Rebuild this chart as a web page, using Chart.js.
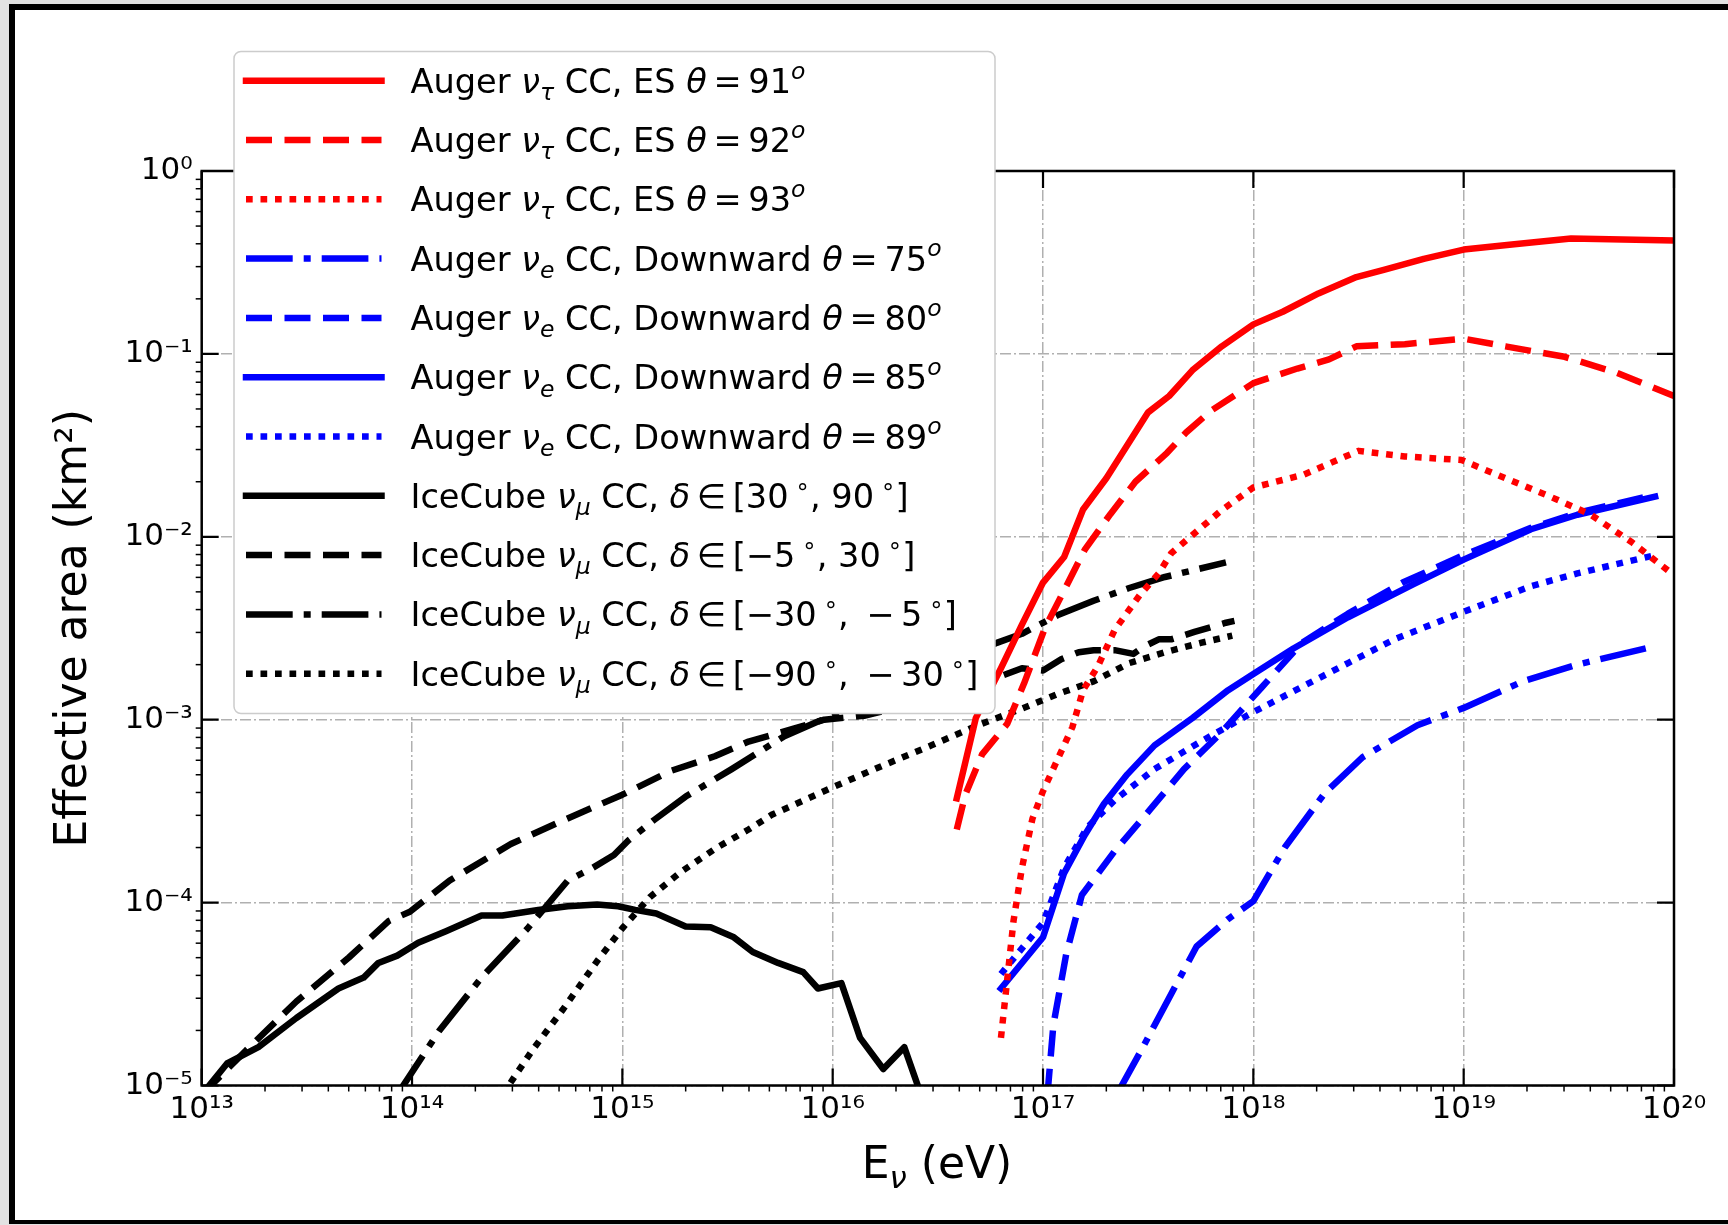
<!DOCTYPE html>
<html>
<head>
<meta charset="utf-8">
<script src="https://cdn.jsdelivr.net/npm/chart.js@4.4.1/dist/chart.umd.min.js"></script>
<style>
html, body { margin: 0; padding: 0; width: 1728px; height: 1225px; overflow: hidden; background: #e2e2e2; }
#frame { position: absolute; left: 9px; top: 4px; width: 1713px; height: 1210px; background: #fff;
  border-top: 6px solid #000; border-left: 6px solid #000; border-bottom: 4px solid #000; }
#plot { position: absolute; left: 0; top: 0; }
</style>
</head>
<body>
<div id="frame"></div>
<canvas id="plot" width="1728" height="1225"></canvas>
<script>
// ********
// * Data *
// ********
// each series: [energy (eV), effective area (km^2)]
const tau91 = [[3.89e16, 3.72e-4], [4.79e16, 1.02e-3], [6.31e16, 1.91e-3], [7.94e16, 3.31e-3], [1.0e17, 5.62e-3],
  [1.26e17, 7.76e-3], [1.55e17, 1.41e-2], [2.0e17, 2.09e-2], [2.51e17, 3.16e-2], [3.16e17, 4.79e-2],
  [3.98e17, 5.89e-2], [5.13e17, 8.13e-2], [7.08e17, 0.110], [1.0e18, 0.145], [1.38e18, 0.170],
  [2.04e18, 0.214], [3.09e18, 0.263], [4.17e18, 0.288], [6.46e18, 0.331], [1.0e19, 0.372],
  [1.74e19, 0.398], [3.24e19, 0.427], [1.0e20, 0.417]];
const tau92 = [[3.89e16, 2.51e-4], [4.27e16, 3.89e-4], [5.13e16, 6.46e-4], [6.76e16, 9.5e-4], [8.13e16, 1.58e-3],
  [1.02e17, 3.16e-3], [1.29e17, 5.37e-3], [1.58e17, 8.51e-3], [2.09e17, 1.33e-2], [2.75e17, 2.0e-2],
  [3.89e17, 2.88e-2], [4.79e17, 3.72e-2], [6.31e17, 4.9e-2], [1.0e18, 6.92e-2], [1.62e18, 8.32e-2],
  [2.29e18, 9.33e-2], [3.09e18, 0.110], [5.25e18, 0.113], [1.0e19, 0.121], [1.58e19, 0.110],
  [3.02e19, 9.64e-2], [5.25e19, 7.94e-2], [1.0e20, 5.89e-2]];
const tau93 = [[6.31e16, 1.82e-5], [6.76e16, 3.8e-5], [7.24e16, 7.94e-5], [7.94e16, 1.55e-4], [8.91e16, 2.88e-4],
  [1.0e17, 4.07e-4], [1.17e17, 6.03e-4], [1.38e17, 9.12e-4], [1.55e17, 1.45e-3], [1.82e17, 1.95e-3],
  [2.19e17, 3.09e-3], [2.88e17, 4.79e-3], [3.55e17, 6.31e-3], [4.07e17, 8.13e-3], [5.37e17, 1.07e-2],
  [7.08e17, 1.4e-2], [1.0e18, 1.86e-2], [1.74e18, 2.19e-2], [3.16e18, 2.95e-2], [5.25e18, 2.75e-2],
  [9.77e18, 2.63e-2], [1.58e19, 2.09e-2], [2.57e19, 1.66e-2], [3.98e19, 1.33e-2], [6.31e19, 9.33e-3],
  [1.0e20, 6.17e-3]];
const down75 = [[2.24e17, 8.9e-6], [2.95e17, 1.58e-5], [3.98e17, 3.02e-5], [5.37e17, 5.75e-5], [7.59e17, 8.13e-5],
  [1.0e18, 1.02e-4], [1.41e18, 2.0e-4], [2.19e18, 3.98e-4], [3.31e18, 6.24e-4], [6.03e18, 9.33e-4],
  [1.0e19, 1.16e-3], [1.91e19, 1.62e-3], [3.47e19, 2.0e-3], [7.94e19, 2.51e-3]];
const down80 = [[1.05e17, 8.9e-6], [1.12e17, 2.14e-5], [1.29e17, 5.25e-5], [1.53e17, 1.1e-4], [2.19e17, 1.91e-4],
  [3.24e17, 3.24e-4], [4.68e17, 5.37e-4], [6.92e17, 8.32e-4], [1.1e18, 1.51e-3], [1.7e18, 2.63e-3],
  [2.82e18, 3.8e-3], [5.13e18, 5.62e-3], [1.0e19, 7.94e-3], [2.09e19, 1.12e-2], [3.47e19, 1.35e-2],
  [8.13e19, 1.7e-2]];
const down85 = [[6.31e16, 3.39e-5], [1.0e17, 6.46e-5], [1.26e17, 1.45e-4], [1.58e17, 2.34e-4], [1.95e17, 3.47e-4],
  [2.51e17, 5.01e-4], [3.39e17, 7.24e-4], [5.13e17, 1.02e-3], [7.59e17, 1.45e-3], [1.0e18, 1.78e-3],
  [1.55e18, 2.45e-3], [2.82e18, 3.63e-3], [5.75e18, 5.5e-3], [1.0e19, 7.5e-3], [2.09e19, 1.1e-2],
  [3.47e19, 1.32e-2], [8.13e19, 1.66e-2]];
const down89 = [[6.31e16, 4.07e-5], [7.94e16, 5.62e-5], [1.0e17, 7.76e-5], [1.26e17, 1.55e-4], [1.62e17, 2.57e-4],
  [2.19e17, 3.63e-4], [3.39e17, 5.37e-4], [5.62e17, 7.59e-4], [1.0e18, 1.1e-3], [1.7e18, 1.51e-3],
  [2.82e18, 2.04e-3], [4.68e18, 2.75e-3], [1.0e19, 3.89e-3], [2.09e19, 5.37e-3], [3.47e19, 6.31e-3],
  [8.13e19, 7.94e-3]];
const ic30to90 = [[1.0e13, 8.9e-6], [1.32e13, 1.32e-5], [1.86e13, 1.62e-5], [2.82e13, 2.34e-5], [4.47e13, 3.39e-5],
  [5.89e13, 3.89e-5], [6.92e13, 4.68e-5], [8.51e13, 5.13e-5], [1.07e14, 6.03e-5], [1.45e14, 6.98e-5],
  [2.14e14, 8.51e-5], [2.69e14, 8.51e-5], [3.98e14, 9.12e-5], [5.5e14, 9.55e-5], [7.59e14, 9.77e-5],
  [9.55e14, 9.55e-5], [1.15e15, 9.12e-5], [1.45e15, 8.71e-5], [2.0e15, 7.41e-5], [2.63e15, 7.33e-5],
  [3.39e15, 6.46e-5], [4.17e15, 5.37e-5], [5.5e15, 4.68e-5], [7.24e15, 4.17e-5], [8.51e15, 3.39e-5],
  [1.1e16, 3.63e-5], [1.35e16, 1.82e-5], [1.74e16, 1.23e-5], [2.19e16, 1.62e-5], [2.63e16, 8.9e-6]];
const icM5to30 = [[1.0e13, 8.9e-6], [1.62e13, 1.55e-5], [2.82e13, 2.88e-5], [5.01e13, 5.01e-5], [7.76e13, 7.94e-5],
  [9.77e13, 8.91e-5], [1.51e14, 1.32e-4], [2.95e14, 2.09e-4], [5.25e14, 2.82e-4], [1.0e15, 3.89e-4],
  [1.7e15, 5.25e-4], [2.75e15, 6.31e-4], [3.98e15, 7.59e-4], [6.46e15, 8.91e-4], [9.12e15, 1.0e-3],
  [1.41e16, 1.05e-3], [3.16e16, 1.32e-3], [6.03e16, 1.7e-3], [7.94e16, 1.91e-3], [1.0e17, 1.86e-3],
  [1.22e17, 2.14e-3], [1.48e17, 2.34e-3], [1.74e17, 2.4e-3], [2.19e17, 2.4e-3], [2.69e17, 2.29e-3],
  [3.02e17, 2.51e-3], [3.55e17, 2.75e-3], [4.07e17, 2.75e-3], [5.25e17, 3.02e-3], [7.41e17, 3.39e-3],
  [8.13e17, 3.47e-3]];
const icM30toM5 = [[8.5e13, 8.9e-6], [1.35e14, 2.0e-5], [2.14e14, 3.89e-5], [3.55e14, 7.24e-5], [5.5e14, 1.32e-4],
  [7.24e14, 1.55e-4], [9.12e14, 1.82e-4], [1.07e15, 2.19e-4], [1.41e15, 2.82e-4], [2.0e15, 3.8e-4],
  [3.31e15, 5.37e-4], [5.89e15, 8.13e-4], [8.51e15, 9.77e-4], [1.05e16, 1.07e-3], [2.51e16, 1.66e-3],
  [6.03e16, 2.63e-3], [7.94e16, 2.95e-3], [1.17e17, 3.72e-3], [1.74e17, 4.47e-3], [2.57e17, 5.25e-3],
  [3.8e17, 6.03e-3], [7.41e17, 7.24e-3]];
const icM90toM30 = [[2.69e14, 8.9e-6], [3.72e14, 1.55e-5], [5.25e14, 2.63e-5], [7.59e14, 4.79e-5], [1.0e15, 7.24e-5],
  [1.35e15, 1.07e-4], [1.91e15, 1.48e-4], [2.82e15, 2.0e-4], [3.98e15, 2.51e-4], [5.13e15, 3.02e-4],
  [1.0e16, 4.27e-4], [1.66e16, 5.5e-4], [2.95e16, 7.24e-4], [4.9e16, 9.33e-4], [7.94e16, 1.15e-3],
  [1.17e17, 1.38e-3], [1.74e17, 1.62e-3], [2.57e17, 2.04e-3], [3.8e17, 2.34e-3], [5.62e17, 2.63e-3],
  [7.94e17, 2.88e-3]];

const legendLabels = [
  'Auger ν_{τ} CC, ES θ\u2009=\u200991^{o}',
  'Auger ν_{τ} CC, ES θ\u2009=\u200992^{o}',
  'Auger ν_{τ} CC, ES θ\u2009=\u200993^{o}',
  'Auger ν_{e} CC, Downward θ\u2009=\u200975^{o}',
  'Auger ν_{e} CC, Downward θ\u2009=\u200980^{o}',
  'Auger ν_{e} CC, Downward θ\u2009=\u200985^{o}',
  'Auger ν_{e} CC, Downward θ\u2009=\u200989^{o}',
  'IceCube ν_{μ} CC, δ\u2009∈\u2009[30\u2009^{∘}, 90\u2009^{∘}]',
  'IceCube ν_{μ} CC, δ\u2009∈\u2009[−5\u2009^{∘}, 30\u2009^{∘}]',
  'IceCube ν_{μ} CC, δ\u2009∈\u2009[−30\u2009^{∘}, \u2009−\u20095\u2009^{∘}]',
  'IceCube ν_{μ} CC, δ\u2009∈\u2009[−90\u2009^{∘}, \u2009−\u200930\u2009^{∘}]'
];

const xTickValues = [1e13, 1e14, 1e15, 1e16, 1e17, 1e18, 1e19, 1e20];
const xTickLabels = ['10¹³', '10¹⁴', '10¹⁵', '10¹⁶', '10¹⁷', '10¹⁸', '10¹⁹', '10²⁰'];
const yTickValues = [1e-5, 1e-4, 1e-3, 1e-2, 1e-1, 1];
const yTickLabels = ['10⁻⁵', '10⁻⁴', '10⁻³', '10⁻²', '10⁻¹', '10⁰'];

// **********
// * Styles *
// **********
const FONT = 'DejaVu Sans';
const LW = 6.5;
const SOLID = [];
const DASH = [26, 12.5];
const DOT = [6.7, 7.8];
const DASHDOT = [46.7, 11, 7, 11];

const series = [
  {pts: tau91, color: '#ff0000', dash: SOLID},
  {pts: tau92, color: '#ff0000', dash: DASH},
  {pts: tau93, color: '#ff0000', dash: DOT},
  {pts: down75, color: '#0000ff', dash: DASHDOT},
  {pts: down80, color: '#0000ff', dash: DASH},
  {pts: down85, color: '#0000ff', dash: SOLID},
  {pts: down89, color: '#0000ff', dash: DOT},
  {pts: ic30to90, color: '#000000', dash: SOLID},
  {pts: icM5to30, color: '#000000', dash: DASH},
  {pts: icM30toM5, color: '#000000', dash: DASHDOT},
  {pts: icM90toM30, color: '#000000', dash: DOT}
];

const datasets = series.map((s, i) => ({
  label: legendLabels[i],
  data: s.pts.map(p => ({x: p[0], y: p[1]})),
  showLine: true,
  borderColor: s.color,
  borderWidth: LW,
  borderDash: s.dash,
  borderCapStyle: s.dash.length ? 'butt' : 'square',
  borderJoinStyle: 'round',
  pointRadius: 0,
  pointHoverRadius: 0,
  tension: 0,
  fill: false,
  clip: 0
}));

// ***********
// * Helpers *
// ***********
function logTicks(majors) {
  const out = [];
  majors.forEach((v, i) => {
    out.push({value: v, major: true});
    if (i < majors.length - 1) {
      for (let k = 2; k <= 9; k++) out.push({value: k * v, major: false});
    }
  });
  return out;
}

function labelFor(values, labels, value) {
  const i = values.findIndex(v => Math.abs(Math.log10(v / value)) < 1e-6);
  return i >= 0 ? labels[i] : '';
}

// tiny markup: _{..} subscript, ^{..} superscript, greek letters in italic
function parseRuns(s) {
  const runs = [];
  let i = 0;
  while (i < s.length) {
    const c = s[i];
    if ((c === '_' || c === '^') && s[i + 1] === '{') {
      const j = s.indexOf('}', i);
      for (const ch of s.slice(i + 2, j)) runs.push({t: ch, k: c === '_' ? 'sub' : 'sup'});
      i = j + 1;
    } else {
      runs.push({t: c, k: 'base'});
      i++;
    }
  }
  return runs;
}

function runFont(r, size) {
  const italic = /[α-ω]/.test(r.t) || (r.k !== 'base' && /[a-z]/.test(r.t));
  const px = r.k === 'base' ? size : size * 0.7;
  return (italic ? 'italic ' : '') + px + 'px "' + FONT + '"';
}

function measureRuns(ctx, text, size) {
  let w = 0;
  parseRuns(text).forEach(r => {
    ctx.font = runFont(r, size);
    w += ctx.measureText(r.t).width;
  });
  return w;
}

function drawRuns(ctx, text, x, baseY, size) {
  let cx = x;
  ctx.textAlign = 'left';
  ctx.textBaseline = 'alphabetic';
  parseRuns(text).forEach(r => {
    ctx.font = runFont(r, size);
    let dy = 0;
    if (r.k === 'sub') dy = 0.22 * size;
    if (r.k === 'sup') dy = -0.42 * size;
    ctx.fillText(r.t, cx, baseY + dy);
    cx += ctx.measureText(r.t).width;
  });
}

// ***********************************
// * Ticks, spines, x title, legend *
// ***********************************
const decorPlugin = {
  id: 'decor',
  afterDraw(chart) {
    const {ctx, chartArea: a, scales: {x, y}} = chart;
    ctx.save();
    ctx.strokeStyle = '#000';
    ctx.setLineDash([]);
    x.ticks.forEach(t => {
      const px = x.getPixelForValue(t.value);
      ctx.beginPath();
      if (t.major) {
        ctx.lineWidth = 2.2;
        ctx.moveTo(px, a.bottom); ctx.lineTo(px, a.bottom - 17);
        ctx.moveTo(px, a.top); ctx.lineTo(px, a.top + 17);
      } else {
        ctx.lineWidth = 1.5;
        ctx.moveTo(px, a.bottom); ctx.lineTo(px, a.bottom + 6);
      }
      ctx.stroke();
    });
    y.ticks.forEach(t => {
      const py = y.getPixelForValue(t.value);
      ctx.beginPath();
      if (t.major) {
        ctx.lineWidth = 2.2;
        ctx.moveTo(a.left, py); ctx.lineTo(a.left + 17, py);
        ctx.moveTo(a.right, py); ctx.lineTo(a.right - 17, py);
      } else {
        ctx.lineWidth = 1.5;
        ctx.moveTo(a.left, py); ctx.lineTo(a.left - 6, py);
      }
      ctx.stroke();
    });
    ctx.lineWidth = 2.5;
    ctx.strokeRect(a.left, a.top, a.right - a.left, a.bottom - a.top);

    // x axis title
    ctx.fillStyle = '#000';
    const xTitle = 'E_{ν} (eV)';
    const tw = measureRuns(ctx, xTitle, 44);
    drawRuns(ctx, xTitle, 937 - tw / 2, 1178, 44);

    // legend
    const box = {x: 234, y: 51.5, w: 761, h: 662};
    ctx.beginPath();
    ctx.roundRect(box.x, box.y, box.w, box.h, 7);
    ctx.fillStyle = '#ffffff';
    ctx.fill();
    ctx.lineWidth = 1.5;
    ctx.strokeStyle = '#cccccc';
    ctx.stroke();
    series.forEach((s, i) => {
      const ly = 80.7 + i * 59.3;
      ctx.beginPath();
      ctx.strokeStyle = s.color;
      ctx.lineWidth = LW;
      ctx.setLineDash(s.dash);
      ctx.lineCap = s.dash.length ? 'butt' : 'square';
      ctx.moveTo(246, ly);
      ctx.lineTo(381.5, ly);
      ctx.stroke();
      ctx.setLineDash([]);
      ctx.fillStyle = '#000';
      drawRuns(ctx, legendLabels[i], 410.5, ly + 12, 33.6);
    });
    ctx.restore();
  }
};

// *********
// * Chart *
// *********
const plotCtx = document.getElementById('plot').getContext('2d');
const effAreaChart = new Chart(plotCtx, {
  type: 'scatter',
  data: {datasets},
  options: {
    responsive: false,
    animation: false,
    events: [],
    layout: {padding: {left: 0, top: 171, right: 54, bottom: 0}},
    plugins: {legend: {display: false}, tooltip: {enabled: false}},
    scales: {
      x: {
        type: 'logarithmic',
        position: 'bottom',
        min: 1e13,
        max: 1e20,
        afterBuildTicks: scale => { scale.ticks = logTicks(xTickValues); },
        afterFit: scale => { scale.height = 139.5; },
        grid: {
          color: c => (c.tick && c.tick.major) ? '#b0b0b0' : 'rgba(0,0,0,0)',
          lineWidth: 1.5,
          drawTicks: false
        },
        border: {display: false, dash: [11, 3, 2, 3]},
        ticks: {
          autoSkip: false,
          maxRotation: 0,
          minRotation: 0,
          padding: 6,
          color: '#000',
          font: {family: FONT, size: 31},
          callback: value => labelFor(xTickValues, xTickLabels, value)
        }
      },
      y: {
        type: 'logarithmic',
        position: 'left',
        min: 1e-5,
        max: 1,
        afterBuildTicks: scale => { scale.ticks = logTicks(yTickValues); },
        afterFit: scale => { scale.width = 201.7; },
        grid: {
          color: c => (c.tick && c.tick.major) ? '#b0b0b0' : 'rgba(0,0,0,0)',
          lineWidth: 1.5,
          drawTicks: false
        },
        border: {display: false, dash: [11, 3, 2, 3]},
        title: {
          display: true,
          text: 'Effective area (km²)',
          color: '#000',
          font: {family: FONT, size: 44},
          padding: {top: 48, bottom: 0}
        },
        ticks: {
          autoSkip: false,
          padding: 9,
          color: '#000',
          font: {family: FONT, size: 31},
          callback: value => labelFor(yTickValues, yTickLabels, value)
        }
      }
    }
  },
  plugins: [decorPlugin]
});
</script>
</body>
</html>
